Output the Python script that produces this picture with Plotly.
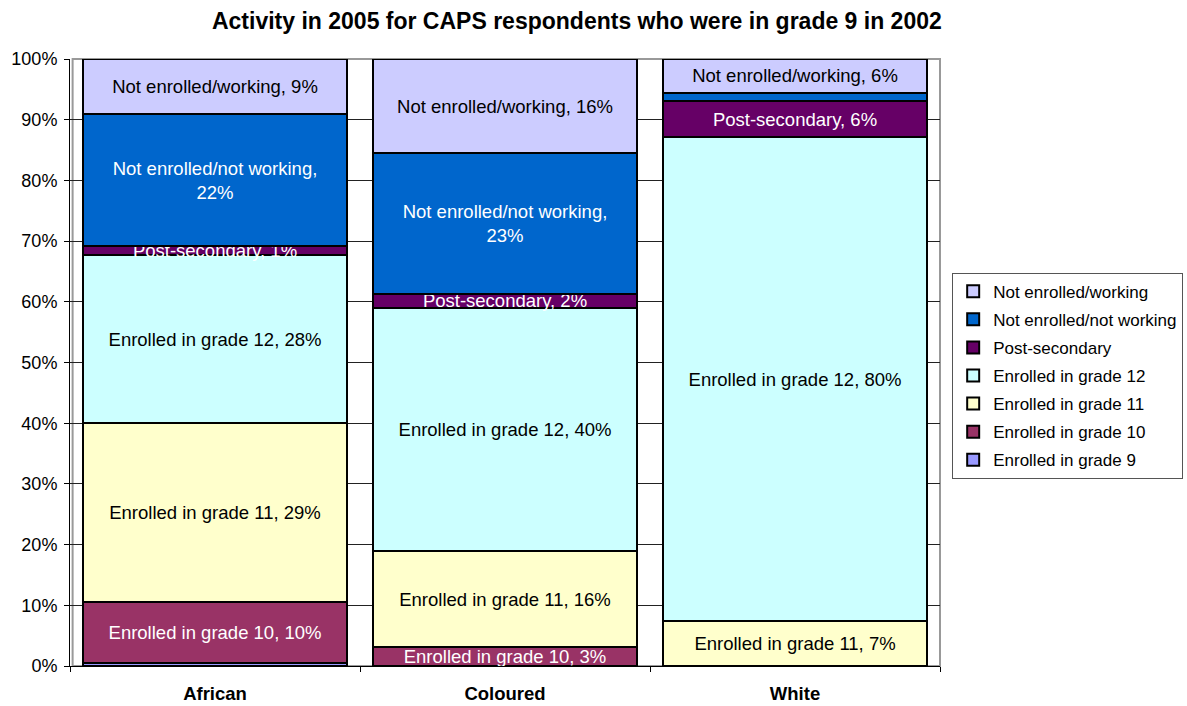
import plotly.graph_objects as go

categories = ["African", "Coloured", "White"]

series_names = [
    "Enrolled in grade 9",
    "Enrolled in grade 10",
    "Enrolled in grade 11",
    "Enrolled in grade 12",
    "Post-secondary",
    "Not enrolled/not working",
    "Not enrolled/working",
]
grade9 = [0.5, 0.0, 0.0]
grade10 = [10.0, 3.1, 0.0]
grade11 = [29.5, 15.8, 7.4]
grade12 = [27.7, 40.1, 79.7]
post_secondary = [1.5, 2.3, 6.0]
not_working = [21.7, 23.2, 1.3]
working = [9.1, 15.5, 5.6]

series_values = [grade9, grade10, grade11, grade12, post_secondary, not_working, working]

# label text per series per category ("" = no label)
label_texts = [
    ["", "", ""],
    ["Enrolled in grade 10, 10%", "Enrolled in grade 10, 3%", ""],
    ["Enrolled in grade 11, 29%", "Enrolled in grade 11, 16%", "Enrolled in grade 11, 7%"],
    ["Enrolled in grade 12, 28%", "Enrolled in grade 12, 40%", "Enrolled in grade 12, 80%"],
    ["Post-secondary, 1%", "Post-secondary, 2%", "Post-secondary, 6%"],
    ["Not enrolled/not working,<br>22%", "Not enrolled/not working,<br>23%", ""],
    ["Not enrolled/working, 9%", "Not enrolled/working, 16%", "Not enrolled/working, 6%"],
]

colors = ["#9999FF", "#993366", "#FFFFCC", "#CCFFFF", "#660066", "#0066CC", "#CCCCFF"]
text_colors = ["black", "white", "black", "black", "white", "white", "black"]

FONT = "Liberation Sans, Arial, sans-serif"

fig = go.Figure()
n = len(series_names)
for i, (name, vals, txt, col, tcol) in enumerate(zip(series_names, series_values, label_texts, colors, text_colors)):
    fig.add_trace(go.Bar(
        name=name,
        legendgroup=name,
        legendrank=n - i,
        x=categories,
        y=vals,
        text=txt,
        texttemplate="%{text}",
        textposition="inside",
        insidetextanchor="middle",
        textangle=0,
        constraintext="none",
        cliponaxis=False,
        insidetextfont=dict(family=FONT, size=18.5, color=tcol),
        marker=dict(color=col, line=dict(color="black", width=2)),
        hoverinfo="name+y",
    ))

fig.update_layout(
    barmode="stack",
    bargap=0.09,
    width=1187,
    height=706,
    paper_bgcolor="white",
    plot_bgcolor="white",
    margin=dict(l=70, r=247, t=59, b=40, autoexpand=False),
    title=dict(
        text="<b>Activity in 2005 for CAPS respondents who were in grade 9 in 2002</b>",
        font=dict(family=FONT, size=23, color="black"),
        x=0.486, xanchor="center", y=0.971, yanchor="middle",
    ),
    font=dict(family=FONT, color="black"),
    showlegend=True,
    legend=dict(
        traceorder="grouped",
        x=1.014, xanchor="left",
        y=0.648, yanchor="top",
        bordercolor="#555555", borderwidth=1,
        font=dict(family=FONT, size=17, color="black"),
        itemsizing="constant",
        tracegroupgap=3,
    ),
    uniformtext=dict(mode=False),
)

fig.update_yaxes(
    range=[0, 100],
    tickvals=[0, 10, 20, 30, 40, 50, 60, 70, 80, 90, 100],
    ticktext=["0%", "10%", "20%", "30%", "40%", "50%", "60%", "70%", "80%", "90%", "100%"],
    showgrid=True, gridcolor="#222222", gridwidth=1,
    showline=True, linecolor="black", linewidth=1,
    ticks="outside", ticklen=5, tickcolor="black",
    tickfont=dict(family=FONT, size=18, color="black"),
    ticklabelstandoff=3,
    zeroline=False,
    automargin=False,
)
fig.update_xaxes(
    showline=True, linecolor="black", linewidth=1,
    ticks="outside", ticklen=5, tickcolor="black", tickson="boundaries",
    tickfont=dict(family=FONT, size=18.5, color="black"),
    tickprefix="<b>", ticksuffix="</b>",
    ticklabelstandoff=11,
    automargin=False,
)

# plot area border (gray)
fig.add_shape(type="rect", xref="paper", yref="paper", x0=0.003, x1=1.0, y0=0, y1=1,
              line=dict(color="#999999", width=2), layer="below")

fig.write_html("out.html", config={"displayModeBar": False},
               post_script="document.body.style.margin='0';")
